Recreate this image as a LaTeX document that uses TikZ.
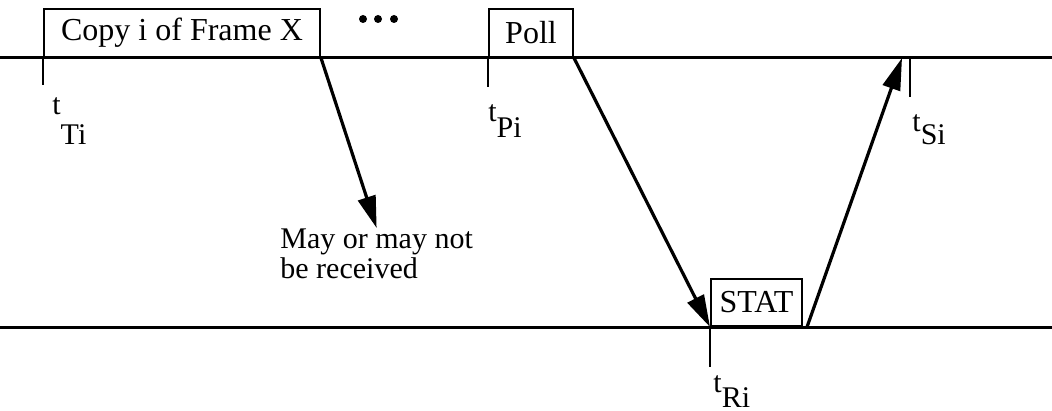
\documentclass[tikz,border=0pt]{standalone}
\usepackage{fontspec}
\setmainfont{Liberation Serif}
\usepackage{tikz}
\usetikzlibrary{arrows.meta, positioning}

\begin{document}
\begin{tikzpicture}[
    x=0.5pt, y=-0.5pt,
    timeline/.style={line width=1.5pt},
    frame/.style={rectangle, draw, line width=1pt, minimum height=24pt, inner sep=0pt, anchor=south west, font=\fontsize{16}{19}\selectfont},
    tick/.style={line width=1.2pt},
    msg/.style={line width=1.6pt, -{Triangle[length=16pt,width=9pt]}},
    tlabel/.style={inner sep=0pt, anchor=base west, font=\fontsize{15}{18}\selectfont}
]
\useasboundingbox (0,0) rectangle (1052,411);

% Time lines
\draw[timeline] (0,58) -- (1052,58);
\draw[timeline] (0,327) -- (1052,327);

% Frames on the lines
\node[frame, minimum width=138pt] (copybox) at (43,58) {Copy i of Frame X};
\node[frame, minimum width=42pt] (pollbox) at (488,58) {Poll};
\node[frame, minimum width=45.5pt, minimum height=23.5pt] (statbox) at (710,327) {STAT};

% Dots
\foreach \dx in {363,378,394}
    \fill (\dx,19) circle (2pt);

% Ticks
\coordinate (tSi) at (910,58);
\coordinate (stret) at (902,58);
\draw[tick] (copybox.south west) -- ++(0,27);
\draw[tick] (pollbox.south west) -- ++(0,29);
\draw[tick] (statbox.south west) -- ++(0,40);
\draw[tick] (tSi) -- ++(0,39);

% Time labels
\node[tlabel] (lTi) at (52,115) {t\raisebox{-15pt}{Ti}};
\node[tlabel] (lPi) at (488,122) {t\raisebox{-8pt}{Pi}};
\node[tlabel] (lRi) at (713,392) {t\raisebox{-7.5pt}{Ri}};
\node[tlabel] (lSi) at (912,132) {t\raisebox{-6.5pt}{Si}};

% Note
\node[inner sep=0pt, anchor=north west, align=left, font=\fontsize{15}{15}\selectfont] (note) at (280,228) {May or may not\\be received};

% Messages
\draw[msg] (copybox.south east) -- (note.north);
\draw[msg] (pollbox.south east) -- (statbox.south west);
\draw[msg] ([xshift=2pt]statbox.south east) -- (stret);

\end{tikzpicture}
\end{document}
